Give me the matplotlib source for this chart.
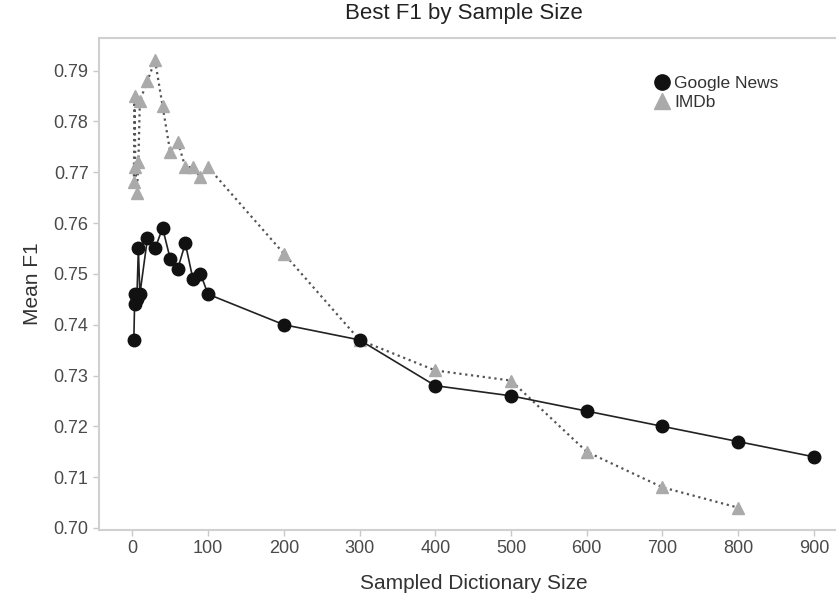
import matplotlib
matplotlib.use("Agg")
import matplotlib.pyplot as plt
from matplotlib.lines import Line2D

plt.rcParams['font.family'] = ['Liberation Sans', 'DejaVu Sans']

gn_x = [2, 3, 4, 6, 8, 10, 20, 30, 40, 50, 60, 70, 80, 90, 100,
        200, 300, 400, 500, 600, 700, 800, 900]
gn_y = [0.737, 0.744, 0.746, 0.745, 0.755, 0.746, 0.757, 0.755, 0.759, 0.753,
        0.751, 0.756, 0.749, 0.750, 0.746,
        0.740, 0.737, 0.728, 0.726, 0.723, 0.720, 0.717, 0.714]

imdb_x = [2, 3, 4, 6, 8, 10, 20, 30, 40, 50, 60, 70, 80, 90, 100,
          200, 300, 400, 500, 600, 700, 800]
imdb_y = [0.768, 0.785, 0.771, 0.766, 0.772, 0.784, 0.788, 0.792, 0.783, 0.774,
          0.776, 0.771, 0.771, 0.769, 0.771,
          0.754, 0.737, 0.731, 0.729, 0.715, 0.708, 0.704]

x_ticks = [0, 100, 200, 300, 400, 500, 600, 700, 800, 900]
y_ticks = [0.70, 0.71, 0.72, 0.73, 0.74, 0.75, 0.76, 0.77, 0.78, 0.79]

fig = plt.figure(figsize=(8.36, 5.93), dpi=100)
ax = fig.add_axes([0.1184, 0.1062, 0.896, 0.8297])

ax.plot(imdb_x, imdb_y, linestyle=':', color='#555555', linewidth=1.6,
        marker='^', markersize=8.5, markerfacecolor='#aaaaaa',
        markeredgecolor='#aaaaaa', label='IMDb', zorder=2)
ax.plot(gn_x, gn_y, linestyle='-', color='#222222', linewidth=1.2,
        marker='o', markersize=9, markerfacecolor='#111111',
        markeredgecolor='#111111', label='Google News', zorder=3)

ax.set_xlim(-44, 945)
ax.set_ylim(0.6996, 0.7964)
ax.set_xticks(x_ticks)
ax.set_xticklabels([str(v) for v in x_ticks])
ax.set_yticks(y_ticks)
ax.set_yticklabels([f"{v:.2f}" for v in y_ticks])

for s in ax.spines.values():
    s.set_color('#d0d0d0')
    s.set_linewidth(1.5)

ax.tick_params(axis='both', colors='#c8c8c8', length=4, width=1,
               labelcolor='#4a4a4a', labelsize=13)

fig.text(0.555, 1 - 13 / 593, 'Best F1 by Sample Size', fontsize=16,
         color='#222222', ha='center', va='center')
ax.set_xlabel('Sampled Dictionary Size', fontsize=15, color='#333333', labelpad=12)
ax.set_ylabel('Mean F1', fontsize=15, color='#333333', labelpad=8)

h_gn = Line2D([], [], linestyle='', marker='o', markersize=11,
              markerfacecolor='#111111', markeredgecolor='#111111')
h_im = Line2D([], [], linestyle='', marker='^', markersize=11,
              markerfacecolor='#aaaaaa', markeredgecolor='#aaaaaa')
leg = ax.legend([h_gn, h_im], ['Google News', 'IMDb'], loc='upper left',
                bbox_to_anchor=(0.726, 0.947), frameon=False, fontsize=12.5,
                handlelength=0.8, handletextpad=0.3, labelspacing=0.2,
                borderpad=0.2)
for t in leg.get_texts():
    t.set_color('#333333')

fig.savefig('out.png', dpi=100)
